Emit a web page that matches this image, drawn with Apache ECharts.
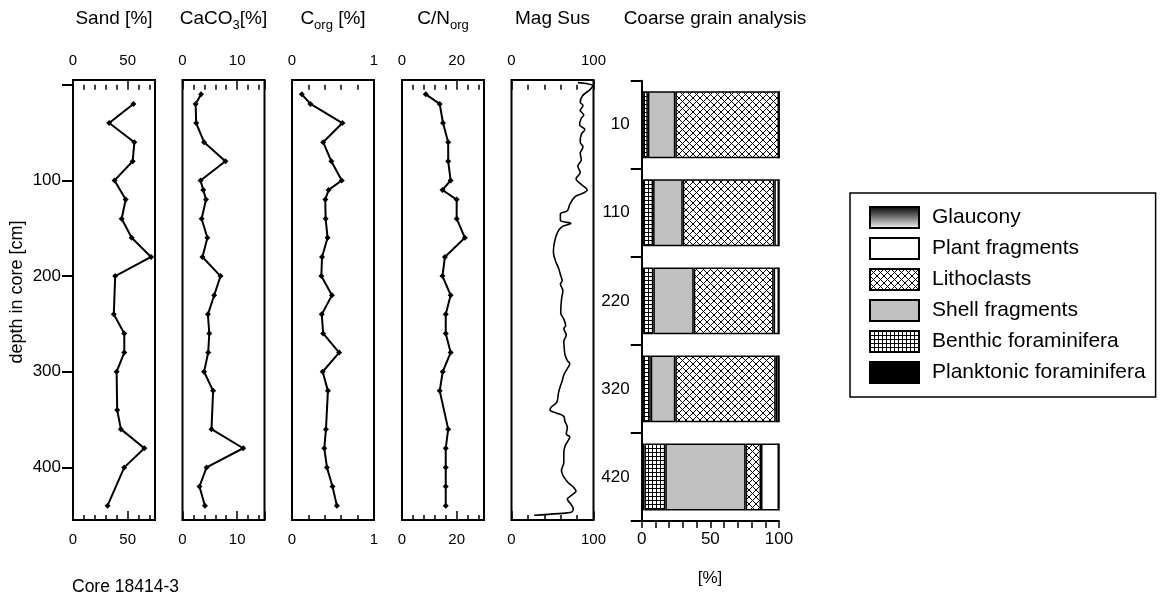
<!DOCTYPE html>
<html><head><meta charset="utf-8">
<script src="https://cdn.jsdelivr.net/npm/echarts@6/dist/echarts.min.js"></script>
<style>html,body{margin:0;padding:0;background:#fff}#c{width:1163px;height:599px}</style>
</head><body><div id="c"></div>
<script>
// ---------------- data ----------------
const sandDepth = [20,40,60,80,100,120,140,160,180,200,240,260,280,300,340,360,380,400,440];
const sand = [55.2,33.1,56.1,54.6,38,48.2,44.5,53.7,71.4,38.6,37.3,46.9,46.9,39.9,40.4,43.8,65.3,46.9,31.6];
const chemDepth = [10,20,40,60,80,100,110,120,140,160,180,200,220,240,260,280,300,320,360,380,400,420,440];
const caco3 = [3.4,2.4,2.5,3.95,7.85,3.3,3.8,4.3,3.5,4.55,3.65,6.95,5.8,4.65,4.9,4.7,3.95,5.6,5.3,11.1,4.4,3.1,4.1];
const corg = [0.12,0.225,0.615,0.38,0.48,0.607,0.446,0.406,0.41,0.434,0.366,0.358,0.487,0.363,0.38,0.575,0.374,0.438,0.414,0.394,0.426,0.494,0.547];
const cn = [8.7,13.8,15,16.9,16.9,17.8,14.8,20,20,23,15.7,14.8,17.8,16,16,17.8,14.9,13.8,16.9,16,16,16,16];
const magDepth = [-2.3,1,5,11.7,18.3,21.7,26.7,31.7,35,41.7,46.7,51.7,60,65,71.7,78.3,85,91.7,98.3,105,110,113.3,116.7,125,131.7,135,141.7,145,148.3,155,165,175,185,191.7,198.3,205,208.3,215,225,238.3,245,251.7,255,261.7,268.3,275,281.7,288.3,291.7,296.7,303.3,310,315,321.7,331.7,336.7,340,343.3,346.7,351.7,358.3,365,368.3,373.3,378.3,385,395,403.3,410,415,418.3,421.7,425,428.3,433.3,438.3,443.3,446.7,448.3,450];
const magSus = [80.9,99.1,95.7,86.4,83.8,87.2,83.8,88.1,85.1,83,89.4,85.1,83.8,87.2,83.8,85.1,80.9,83.8,78.7,86.4,92.3,87.2,77.9,71.1,68.1,59.6,59.6,72.3,61.7,55.7,52.3,51.1,54,57.4,59.6,61.7,59.6,62.6,60.9,60,63.8,66,63.8,66.8,63.8,64.3,65.1,68.1,71.1,68.1,63.8,61.7,59.6,57.4,55.3,48.9,46.8,55.3,63.8,65.1,68.1,66.8,71.1,68.1,65.1,63.8,63.8,60.9,63.8,68.1,72.3,76.6,78.7,74.5,68.1,72.3,75.3,73.6,57.4,27.7];

const grainDepths = ['10','110','220','320','420'];
const planktonic = [0.5,1,1,0.5,2];
const benthic = [4,7.3,7.5,6.1,15.2];
const shell = [20,21.6,29.4,17.9,58.5];
const lithoclasts = [75.5,66.7,58.2,73.1,11.2];
const plant = [0,3.4,3.9,2.4,13.1];
const glaucony = [0,0,0,0,0];

const depthTicks = [0,100,200,300,400];
// ---------------- layout ----------------
const FONT = 'Liberation Sans, Arial, Helvetica, sans-serif';
const panelLefts = [73, 182.5, 292, 402, 511.5];
const PW = 82, PT = 80, PH = 440;
const panels = [
  {max:75, minor:10, major:50, labels:[0,50]},
  {max:15, minor:2, major:10, labels:[0,10]},
  {max:1, minor:0.2, major:1, labels:[0,1]},
  {max:30, minor:4, major:20, labels:[0,20]},
  {max:100, minor:20, major:100, labels:[0,100]}
];
const seriesData = [
  {x: sand, d: sandDepth, sym: true},
  {x: caco3, d: chemDepth, sym: true},
  {x: corg, d: chemDepth, sym: true},
  {x: cn, d: chemDepth, sym: true},
  {x: magSus, d: magDepth, sym: false}
];

function makeHatch(){
  const s = 7, c = document.createElement('canvas'); c.width = s; c.height = s;
  const g = c.getContext('2d'); g.fillStyle = '#fff'; g.fillRect(0,0,s,s);
  g.strokeStyle = '#000'; g.lineWidth = 1;
  g.beginPath(); g.moveTo(-1,-1); g.lineTo(s+1,s+1); g.moveTo(s+1,-1); g.lineTo(-1,s+1); g.stroke();
  return c;
}
function makeGrid(){
  const s = 4, c = document.createElement('canvas'); c.width = s; c.height = s;
  const g = c.getContext('2d'); g.fillStyle = '#fff'; g.fillRect(0,0,s,s);
  g.fillStyle = '#000'; g.fillRect(0,0,s,1); g.fillRect(0,0,1,s);
  return c;
}

const grids = [], xAxes = [], yAxes = [], series = [];
const tickStyle = {color:'#000', width:1.5};
const lblStyle = {color:'#000', fontSize:15, fontFamily:FONT};

panels.forEach((p, i) => {
  grids.push({left:panelLefts[i], top:PT, width:PW, height:PH, show:true, borderColor:'#000', borderWidth:2, backgroundColor:'rgba(0,0,0,0)', outerBoundsMode:'none'});
  const base = {gridIndex:i, type:'value', min:0, max:p.max, axisLine:{show:false}, splitLine:{show:false}};
  let majorIdx;
  ['top','bottom'].forEach(pos => {
    xAxes.push(Object.assign({}, base, {position:pos, interval:p.minor,
      axisTick:{inside:true, length:5, lineStyle:tickStyle}, axisLabel:{show:false}}));
    if (pos === 'top') majorIdx = xAxes.length;
    xAxes.push(Object.assign({}, base, {position:pos, interval:p.major,
      axisTick:{inside:true, length:9, lineStyle:tickStyle},
      axisLabel:Object.assign({margin:12, showMinLabel:true, showMaxLabel:true,
        formatter: v => p.labels.some(l => Math.abs(l - v) < 1e-9) ? String(v) : ''}, lblStyle)}));
  });
  yAxes.push({gridIndex:i, type:'value', inverse:true, min:-5, max:455, show:false});
  const sd = seriesData[i];
  series.push({type:'line', xAxisIndex:majorIdx, yAxisIndex:i,
    data: sd.x.map((v,k) => [v, sd.d[k]]),
    showSymbol: sd.sym, symbol:'diamond', symbolSize:6, smooth: sd.sym ? false : 0.35,
    lineStyle:{color:'#000', width: sd.sym ? 2 : 1.6}, itemStyle:{color:'#000'},
    silent:true, z:3});
});

// bar chart grid (index 5)
grids.push({left:641.7, top:80.7, width:137.3, height:440.3, outerBoundsMode:'none'});
const barX = xAxes.length;
xAxes.push({gridIndex:5, type:'value', position:'bottom', min:0, max:100, interval:10,
  axisLine:{show:true, lineStyle:{color:'#000', width:2}},
  axisTick:{show:true, inside:false, length:7, lineStyle:tickStyle},
  splitLine:{show:false},
  axisLabel:{color:'#000', fontSize:17, fontFamily:FONT, margin:10, formatter: v => v % 50 === 0 ? String(v) : ''}});
const barY = yAxes.length;
yAxes.push({gridIndex:5, type:'category', data:grainDepths, inverse:true,
  axisLine:{show:true, lineStyle:{color:'#000', width:2}},
  axisTick:{show:true, length:11, lineStyle:{color:'#000', width:2}},
  axisLabel:{color:'#000', fontSize:17, fontFamily:FONT, margin:12}});

// depth axis grid (index 6)
grids.push({left:panelLefts[0], top:PT + 5*PH/460, width:PW, height:400*PH/460, outerBoundsMode:'none'});
xAxes.push({gridIndex:6, type:'value', min:0, max:1, show:false});
yAxes.push({gridIndex:6, type:'value', inverse:true, min:depthTicks[0], max:depthTicks[depthTicks.length-1], interval:100,
  axisLine:{show:false}, splitLine:{show:false},
  axisTick:{show:true, inside:false, length:11, lineStyle:{color:'#000', width:2}},
  axisLabel:{color:'#000', fontSize:17, fontFamily:FONT, margin:12, formatter: v => v === 0 ? '' : String(v)}});

const gradGlaucony = new echarts.graphic.LinearGradient(0,0,0,1,[{offset:0,color:'#000'},{offset:0.5,color:'#777'},{offset:1,color:'#fff'}]);
const barSeries = [
  ['Planktonic foraminifera', planktonic, '#000'],
  ['Benthic foraminifera', benthic, {image: makeGrid(), repeat:'repeat'}],
  ['Shell fragments', shell, '#c0c0c0'],
  ['Lithoclasts', lithoclasts, {image: makeHatch(), repeat:'repeat'}],
  ['Plant fragments', plant, '#fff'],
  ['Glaucony', glaucony, gradGlaucony]
];
barSeries.forEach(([name, data, color]) => {
  series.push({type:'bar', name, stack:'grain', xAxisIndex:barX, yAxisIndex:barY, data,
    barCategoryGap:'24%', itemStyle:{color, borderColor:'#000', borderWidth:1.5}, silent:true});
});

function title(x, text, rich){
  return {type:'text', x, y:19, style:{text, rich, fill:'#000', fontSize:19, fontFamily:FONT,
    align:'center', verticalAlign:'middle', textAlign:'center', textVerticalAlign:'middle'}};
}
const subRich = {s:{fontSize:13, fontFamily:FONT, fill:'#000', color:'#000', padding:[12,0,0,0]}};
const centers = panelLefts.map(l => l + PW/2);

const option = {
  animation:false,
  backgroundColor:'#fff',
  grid: grids, xAxis: xAxes, yAxis: yAxes, series,
  legend:{
    orient:'vertical', left:850, top:193, selectedMode:false,
    data:['Glaucony','Plant fragments','Lithoclasts','Shell fragments','Benthic foraminifera','Planktonic foraminifera'],
    icon:'rect', itemWidth:49, itemHeight:21, itemGap:8,
    padding:[13,10,13,19], borderColor:'#000', borderWidth:1.5, backgroundColor:'#fff',
    textStyle:{color:'#000', fontSize:21, fontFamily:FONT, padding:[0,0,0,8]}
  },
  graphic:[
    title(centers[0], 'Sand [%]'),
    title(centers[1], 'CaCO{s|3}[%]', subRich),
    title(centers[2], 'C{s|org} [%]', subRich),
    title(centers[3], 'C/N{s|org}', subRich),
    title(centers[4], 'Mag Sus'),
    title(715, 'Coarse grain analysis'),
    {type:'text', x:17, y:292, rotation:Math.PI/2, style:{text:'depth in core [cm]', fill:'#000', fontSize:18, fontFamily:FONT,
      align:'center', verticalAlign:'middle', textAlign:'center', textVerticalAlign:'middle'}},
    {type:'text', x:72, y:587, style:{text:'Core 18414-3', fill:'#000', fontSize:17.5, fontFamily:FONT,
      align:'left', verticalAlign:'middle', textAlign:'left', textVerticalAlign:'middle'}},
    {type:'text', x:710, y:578, style:{text:'[%]', fill:'#000', fontSize:17, fontFamily:FONT,
      align:'center', verticalAlign:'middle', textAlign:'center', textVerticalAlign:'middle'}}
  ]
};
const chart = echarts.init(document.getElementById('c'), null, {renderer:'canvas'});
chart.setOption(option);
</script></body></html>
